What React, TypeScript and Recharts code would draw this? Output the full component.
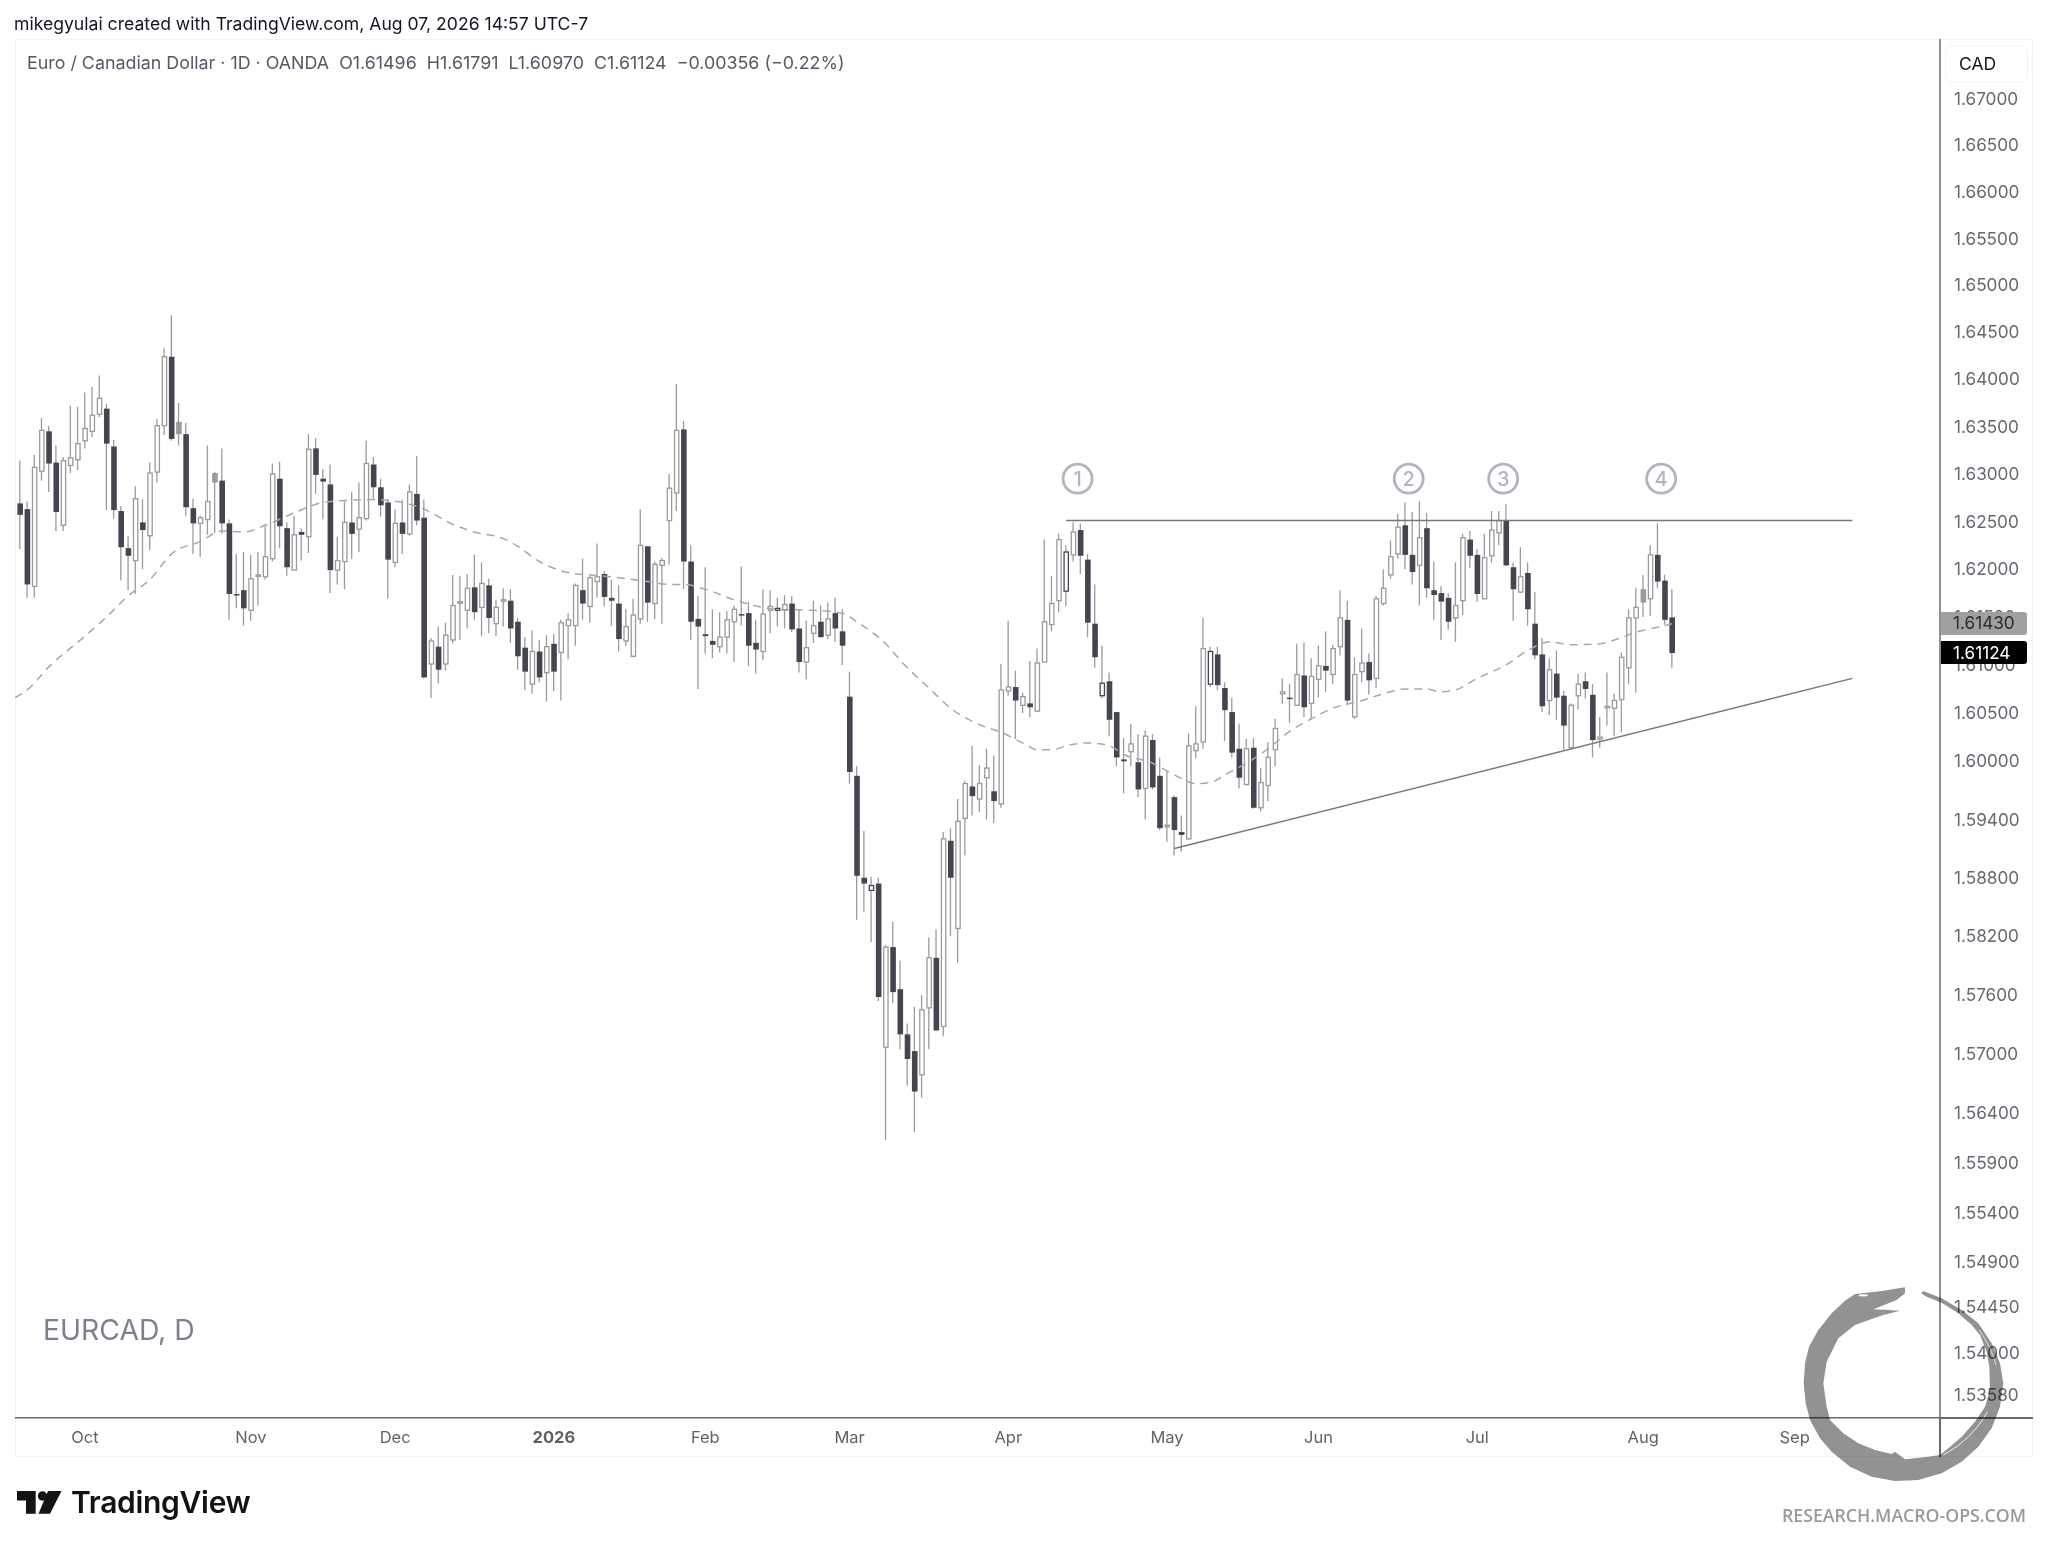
import React from "react";
import {
  ComposedChart,
  Bar,
  Line,
  XAxis,
  YAxis,
  ReferenceDot,
} from "recharts";

const highs = [
  1.6314,1.6271,1.6320,1.6359,1.6351,1.6330,1.6318,1.6372,1.6371,1.6386,
  1.6392,1.6404,1.6374,1.6336,1.6266,1.6235,1.6287,1.6273,1.6312,1.6358,
  1.6433,1.6468,1.6375,1.6354,1.6274,1.6256,1.6330,1.6302,1.6327,1.6252,
  1.6216,1.6218,1.6215,1.6218,1.6245,1.6311,1.6313,1.6249,1.6256,1.6243,
  1.6342,1.6338,1.6305,1.6310,1.6234,1.6271,1.6281,1.6291,1.6335,1.6318,
  1.6295,1.6273,1.6263,1.6273,1.6289,1.6319,1.6273,1.6128,1.6140,1.6144,
  1.6194,1.6193,1.6195,1.6215,1.6207,1.6190,1.6168,1.6180,1.6179,1.6149,
  1.6129,1.6136,1.6126,1.6131,1.6132,1.6147,1.6154,1.6185,1.6211,1.6193,
  1.6227,1.6198,1.6189,1.6183,1.6158,1.6169,1.6263,1.6224,1.6208,1.6212,
  1.6300,1.6395,1.6356,1.6225,1.6172,1.6202,1.6158,1.6155,1.6156,1.6162,
  1.6203,1.6166,1.6147,1.6179,1.6178,1.6170,1.6173,1.6172,1.6158,1.6146,
  1.6167,1.6162,1.6165,1.6170,1.6158,1.6093,1.5995,1.5928,1.5881,1.5880,
  1.5811,1.5835,1.5795,1.5731,1.5748,1.5760,1.5819,1.5827,1.5927,1.5931,
  1.5961,1.5980,1.6016,1.5996,1.6013,1.6006,1.6101,1.6146,1.6094,1.6071,
  1.6104,1.6117,1.6231,1.6193,1.6237,1.6225,1.6249,1.6248,1.6216,1.6184,
  1.6120,1.6092,1.6051,1.6024,1.6039,1.6028,1.6032,1.6028,1.6004,1.5989,
  1.5965,1.5944,1.6029,1.6057,1.6149,1.6119,1.6119,1.6082,1.6066,1.6039,
  1.6023,1.6024,1.5993,1.6020,1.6044,1.6086,1.6080,1.6122,1.6123,1.6107,
  1.6120,1.6135,1.6121,1.6178,1.6167,1.6108,1.6138,1.6112,1.6172,1.6200,
  1.6230,1.6258,1.6270,1.6260,1.6271,1.6259,1.6208,1.6182,1.6175,1.6207,
  1.6237,1.6240,1.6221,1.6237,1.6261,1.6261,1.6268,1.6207,1.6223,1.6207,
  1.6176,1.6128,1.6107,1.6115,1.6073,1.6060,1.6091,1.6092,1.6080,1.6046,
  1.6092,1.6070,1.6113,1.6158,1.6180,1.6194,1.6225,1.6248,1.6194,1.61791,
];

const lows = [
  1.6221,1.6170,1.6170,1.6293,1.6281,1.6240,1.6240,1.6301,1.6304,1.6327,
  1.6339,1.6360,1.6262,1.6253,1.6188,1.6178,1.6174,1.6200,1.6220,1.6291,
  1.6341,1.6335,1.6330,1.6256,1.6216,1.6213,1.6236,1.6238,1.6237,1.6147,
  1.6159,1.6141,1.6146,1.6162,1.6189,1.6208,1.6222,1.6193,1.6199,1.6209,
  1.6217,1.6279,1.6252,1.6175,1.6184,1.6179,1.6211,1.6218,1.6251,1.6273,
  1.6255,1.6169,1.6202,1.6216,1.6235,1.6246,1.6086,1.6066,1.6081,1.6094,
  1.6122,1.6126,1.6138,1.6147,1.6130,1.6133,1.6130,1.6140,1.6123,1.6095,
  1.6074,1.6070,1.6082,1.6062,1.6073,1.6063,1.6106,1.6120,1.6147,1.6144,
  1.6170,1.6161,1.6141,1.6114,1.6120,1.6108,1.6143,1.6145,1.6148,1.6143,
  1.6205,1.6261,1.6179,1.6126,1.6075,1.6112,1.6107,1.6113,1.6112,1.6103,
  1.6141,1.6099,1.6091,1.6105,1.6133,1.6140,1.6138,1.6134,1.6092,1.6085,
  1.6123,1.6128,1.6127,1.6124,1.6100,1.5977,1.5837,1.5845,1.5814,1.5754,
  1.5613,1.5752,1.5705,1.5668,1.5621,1.5656,1.5705,1.5724,1.5718,1.5820,
  1.5793,1.5903,1.5944,1.5948,1.5940,1.5936,1.5952,1.6068,1.6023,1.6050,
  1.6046,1.6051,1.6103,1.6135,1.6155,1.6161,1.6208,1.6195,1.6129,1.6097,
  1.6065,1.6026,1.5995,1.5967,1.5995,1.5963,1.5940,1.5971,1.5929,1.5917,
  1.5903,1.5907,1.5919,1.6003,1.6013,1.6077,1.6074,1.6021,1.6004,1.5972,
  1.5975,1.5951,1.5948,1.5959,1.5995,1.6059,1.6040,1.6058,1.6046,1.6043,
  1.6066,1.6072,1.6080,1.6110,1.6058,1.6044,1.6082,1.6069,1.6076,1.6162,
  1.6190,1.6211,1.6200,1.6184,1.6162,1.6170,1.6147,1.6126,1.6137,1.6124,
  1.6152,1.6201,1.6166,1.6169,1.6207,1.6225,1.6203,1.6146,1.6175,1.6141,
  1.6106,1.6051,1.6048,1.6043,1.6012,1.6013,1.6054,1.6065,1.6004,1.6014,
  1.6037,1.6026,1.6030,1.6080,1.6071,1.6150,1.6151,1.6180,1.6142,1.60970,
];

const opens = [
  1.6269,1.6263,1.6182,1.6303,1.6345,1.6312,1.6246,1.6309,1.6315,1.6335,
  1.6345,1.6363,1.6369,1.6329,1.6261,1.6222,1.6209,1.6249,1.6235,1.6302,
  1.6351,1.6424,1.6342,1.6342,1.6264,1.6248,1.6252,1.6291,1.6293,1.6248,
  1.6174,1.6178,1.6157,1.6193,1.6192,1.6211,1.6295,1.6243,1.6199,1.6239,
  1.6234,1.6327,1.6295,1.6289,1.6199,1.6208,1.6249,1.6242,1.6253,1.6310,
  1.6286,1.6270,1.6207,1.6249,1.6237,1.6279,1.6254,1.6101,1.6119,1.6101,
  1.6126,1.6165,1.6157,1.6181,1.6160,1.6183,1.6143,1.6167,1.6167,1.6145,
  1.6118,1.6080,1.6114,1.6092,1.6122,1.6113,1.6141,1.6141,1.6178,1.6161,
  1.6187,1.6195,1.6170,1.6164,1.6125,1.6109,1.6148,1.6224,1.6164,1.6204,
  1.6251,1.6280,1.6347,1.6208,1.6148,1.6132,1.6125,1.6119,1.6129,1.6145,
  1.6153,1.6154,1.6123,1.6114,1.6157,1.6157,1.6157,1.6164,1.6138,1.6103,
  1.6133,1.6145,1.6131,1.6154,1.6135,1.6067,1.5985,1.5880,1.5867,1.5874,
  1.5707,1.5809,1.5766,1.5720,1.5703,1.5679,1.5747,1.5798,1.5728,1.5918,
  1.5828,1.5941,1.5974,1.5961,1.5983,1.5969,1.5956,1.6073,1.6077,1.6058,
  1.6060,1.6052,1.6103,1.6142,1.6167,1.6177,1.6215,1.6241,1.6210,1.6143,
  1.6068,1.6083,1.6051,1.6002,1.6010,1.5999,1.5972,1.6022,1.5985,1.5933,
  1.5963,1.5927,1.5920,1.6011,1.6020,1.6080,1.6111,1.6076,1.6051,1.6013,
  1.5976,1.6014,1.5952,1.5975,1.6012,1.6070,1.6066,1.6058,1.6089,1.6060,
  1.6085,1.6099,1.6090,1.6119,1.6147,1.6046,1.6093,1.6103,1.6086,1.6164,
  1.6194,1.6216,1.6246,1.6215,1.6204,1.6243,1.6178,1.6175,1.6170,1.6149,
  1.6167,1.6231,1.6215,1.6169,1.6214,1.6238,1.6251,1.6202,1.6176,1.6196,
  1.6143,1.6111,1.6063,1.6091,1.6068,1.6014,1.6068,1.6083,1.6069,1.6023,
  1.6056,1.6055,1.6064,1.6097,1.6149,1.6165,1.6169,1.6215,1.6188,1.61496,
];

const closes = [
  1.6257,1.6184,1.6307,1.6346,1.6311,1.6260,1.6314,1.6317,1.6332,1.6348,
  1.6362,1.6380,1.6332,1.6262,1.6223,1.6214,1.6274,1.6241,1.6301,1.6351,
  1.6424,1.6337,1.6355,1.6265,1.6248,1.6254,1.6271,1.6301,1.6248,1.6174,
  1.6173,1.6159,1.6190,1.6194,1.6213,1.6300,1.6245,1.6202,1.6236,1.6236,
  1.6326,1.6299,1.6292,1.6199,1.6209,1.6249,1.6237,1.6254,1.6311,1.6286,
  1.6267,1.6210,1.6248,1.6237,1.6281,1.6251,1.6087,1.6125,1.6095,1.6131,
  1.6162,1.6166,1.6180,1.6155,1.6185,1.6149,1.6160,1.6168,1.6138,1.6109,
  1.6093,1.6114,1.6087,1.6119,1.6093,1.6144,1.6147,1.6183,1.6164,1.6191,
  1.6192,1.6171,1.6167,1.6127,1.6140,1.6152,1.6225,1.6165,1.6205,1.6209,
  1.6285,1.6346,1.6208,1.6145,1.6140,1.6130,1.6121,1.6129,1.6147,1.6158,
  1.6152,1.6120,1.6116,1.6153,1.6161,1.6159,1.6163,1.6137,1.6103,1.6118,
  1.6141,1.6129,1.6148,1.6138,1.6120,1.5989,1.5882,1.5874,1.5872,1.5758,
  1.5809,1.5763,1.5720,1.5695,1.5662,1.5745,1.5798,1.5724,1.5920,1.5880,
  1.5938,1.5977,1.5964,1.5977,1.5993,1.5959,1.6074,1.6077,1.6063,1.6067,
  1.6056,1.6102,1.6145,1.6164,1.6231,1.6218,1.6239,1.6214,1.6144,1.6108,
  1.6081,1.6043,1.6004,1.6000,1.6018,1.5971,1.6026,1.5973,1.5931,1.5934,
  1.5929,1.5924,1.6016,1.6018,1.6117,1.6114,1.6079,1.6053,1.6009,1.5983,
  1.6013,1.5952,1.5978,1.6004,1.6034,1.6072,1.6065,1.6090,1.6056,1.6088,
  1.6099,1.6094,1.6117,1.6149,1.6063,1.6090,1.6102,1.6084,1.6169,1.6180,
  1.6213,1.6244,1.6215,1.6197,1.6233,1.6180,1.6173,1.6166,1.6145,1.6162,
  1.6233,1.6214,1.6174,1.6212,1.6241,1.6251,1.6204,1.6179,1.6192,1.6158,
  1.6110,1.6057,1.6095,1.6066,1.6037,1.6058,1.6080,1.6075,1.6022,1.6025,
  1.6057,1.6063,1.6108,1.6149,1.6160,1.6179,1.6215,1.6187,1.6147,1.61124,
];

// sessions with a grey body or a dark outline instead of the usual style
const greySessions = [23, 28, 226];
const outlinedSessions = [106, 119, 146, 151, 166];

const maSessions = [
  0.31,2,5,10,13,16,19,22,26,29,32,35,39,43,46,50,54,57,61,64,68,70,73,78,80,84,88,91,93,96,100,
  104,106,111,115,117,121,123.5,127,130,134,137,140,142,144,146.5,149,152,154,158,161,164,166,
  168,171,174,177,180,183,187,190,193,196,198,200,203,207,210,213,216,220,222,225,229,230,
];
const maValues = [
  1.6066,1.6074,1.6098,1.6130,1.6150,1.6172,1.6189,1.6216,1.6229,1.6240,1.6239,1.6246,1.6259,1.6270,
  1.6272,1.6273,1.6270,1.6263,1.6247,1.6239,1.6232,1.6224,1.6208,1.6195,1.6194,1.6191,1.6187,1.6184,
  1.6184,1.6179,1.6168,1.6160,1.6158,1.6157,1.6154,1.6145,1.6122,1.6101,1.6076,1.6055,1.6038,1.6030,
  1.6019,1.6012,1.6012,1.6017,1.6019,1.6016,1.6007,1.5998,1.5986,1.5977,1.5978,1.5986,1.5998,1.6013,
  1.6031,1.6044,1.6055,1.6063,1.6070,1.6075,1.6075,1.6072,1.6074,1.6086,1.6100,1.6115,1.6124,1.6121,
  1.6122,1.6126,1.6134,1.6141,1.6143,
];

const resistanceLine = [
  { session: 146, price: 1.6251 },
  { session: 255, price: 1.6251 },
];
const supportLine = [
  { session: 161, price: 1.591 },
  { session: 255, price: 1.6086 },
];

const markerSessions = [147.6, 193.5, 206.6, 228.5];
const markerLabels = ["1", "2", "3", "4"];
const markerPrice = 1.6295;

const monthTicks = [10, 33, 53, 75, 96, 116, 138, 160, 181, 203, 226, 247];
const monthLabels = ["Oct", "Nov", "Dec", "2026", "Feb", "Mar", "Apr", "May", "Jun", "Jul", "Aug", "Sep"];

const priceTicks = [
  1.67, 1.665, 1.66, 1.655, 1.65, 1.645, 1.64, 1.635, 1.63, 1.625, 1.62, 1.615, 1.61, 1.605, 1.6,
  1.594, 1.588, 1.582, 1.576, 1.57, 1.564, 1.559, 1.554, 1.549, 1.5445, 1.54, 1.5358,
];

const data = highs.map((high, i) => ({
  session: i + 1,
  wick: [lows[i], high],
  body: [Math.min(opens[i], closes[i]), Math.max(opens[i], closes[i])],
  open: opens[i],
  close: closes[i],
}));

const maData = maSessions.map((session, i) => ({ session, price: maValues[i] }));

const FONT = "Inter, 'Noto Sans', sans-serif";
const DARK = "#434651";
const WICK = "#9b9b9b";

const CandleBody = (props: any) => {
  const { x, y, width, height, payload } = props;
  const h = Math.max(height, 1.5);
  if (greySessions.includes(payload.session)) {
    return <rect x={x} y={y} width={width} height={h} fill="#9b9b9b" />;
  }
  if (payload.close < payload.open) {
    return <rect x={x} y={y} width={width} height={h} fill={DARK} />;
  }
  const stroke = outlinedSessions.includes(payload.session) ? DARK : WICK;
  return (
    <rect
      x={x + 0.65}
      y={y}
      width={width - 1.3}
      height={h}
      fill="#ffffff"
      stroke={stroke}
      strokeWidth={1.3}
    />
  );
};

const MonthTick = (props: any) => {
  const { x, y, payload } = props;
  const label = monthLabels[monthTicks.indexOf(payload.value)];
  return (
    <text
      x={x}
      y={y}
      dy={11}
      textAnchor="middle"
      fontSize={16.5}
      fontFamily={FONT}
      fill="#5f6368"
      fontWeight={label === "2026" ? 700 : 400}
    >
      {label}
    </text>
  );
};

const Ouroboros = () => (
  <svg
    width={220}
    height={210}
    viewBox="0 0 660 630"
    style={{ position: "absolute", left: 1795, top: 1280, mixBlendMode: "multiply" }}
  >
    <path
      d="M330 22 L260 33 L180 42 L150 62 L110 100 L70 150 L42 200 L30 250 L26 310 L32 370 L45 420 L75 475 L110 515 L165 560 L230 590 L300 603 L370 600 L440 580 L500 545 L550 500 L590 445 L615 380 L625 310 L615 250 L590 190 L550 130 L500 90 L440 55 L385 33 L378 40 L395 50 L440 68 L490 100 L530 135 L555 165 L575 215 L583 260 L585 330 L570 380 L540 425 L500 470 L460 505 L435 525 L400 530 L330 538 L300 515 L290 522 L240 510 L190 490 L145 460 L105 420 L95 380 L85 310 L95 245 L130 175 L180 135 L230 117 L265 105 L315 92 L280 90 L235 88 L275 72 L305 60 L330 40 Z"
      fill="#929292"
    />
    <ellipse cx={205} cy={46} rx={14} ry={3.5} fill="#ffffff" />
    <path d="M553 150 Q590 205 603 255" fill="none" stroke="#ffffff" strokeWidth={2} />
    <path d="M578 395 Q530 480 445 525" fill="none" stroke="#ffffff" strokeWidth={2.5} />
  </svg>
);

const TvLogo = () => (
  <svg width={46} height={24} viewBox="0 0 46 24" style={{ position: "absolute", left: 17, top: 1490.5 }}>
    <path d="M0 0 H18.7 V22.7 H9 V9.6 H0 Z" fill="#131313" />
    <circle cx={25.5} cy={5} r={4.7} fill="#131313" />
    <path d="M31 0 H44.5 L33 22.7 H21.5 Z" fill="#131313" />
  </svg>
);

export default function App() {
  return (
    <div
      style={{
        position: "absolute",
        left: 0,
        top: 0,
        width: 2048,
        height: 1547,
        background: "#ffffff",
        fontFamily: FONT,
        overflow: "hidden",
      }}
    >
      <div
        style={{
          position: "absolute",
          left: 15,
          top: 39,
          width: 2018,
          height: 1418,
          border: "1px solid #f0f3fa",
          boxSizing: "border-box",
        }}
      />
      <div style={{ position: "absolute", left: 0, top: 0 }}>
        <ComposedChart
          width={2048}
          height={1547}
          data={data}
          margin={{ top: 39, right: 15, bottom: 89.3, left: 15 }}
        >
          <XAxis
            xAxisId="body"
            dataKey="session"
            type="number"
            scale="linear"
            domain={[0.307, 267.15]}
            allowDataOverflow
            ticks={monthTicks}
            interval={0}
            height={40}
            tickLine={false}
            axisLine={{ stroke: "#6a6a6a", strokeWidth: 1.5 }}
            tick={MonthTick}
            tickMargin={8}
          />
          <XAxis
            xAxisId="wick"
            dataKey="session"
            type="number"
            scale="linear"
            domain={[0.307, 267.15]}
            allowDataOverflow
            hide
          />
          <YAxis
            yAxisId="price"
            orientation="right"
            scale="log"
            domain={[1.53352, 1.67649]}
            allowDataOverflow
            ticks={priceTicks}
            interval={0}
            width={93}
            tickLine={false}
            axisLine={{ stroke: "#6a6a6a", strokeWidth: 1.5 }}
            tick={{ fontSize: 17.2, fill: "#666a70", fontFamily: FONT }}
            tickMargin={8}
            tickFormatter={(v: number) => v.toFixed(5)}
          />
          <Line
            xAxisId="wick"
            yAxisId="price"
            data={maData}
            dataKey="price"
            type="monotone"
            stroke="#a8a8a8"
            strokeWidth={1.5}
            strokeDasharray="8 6"
            dot={false}
            isAnimationActive={false}
          />
          <Bar
            xAxisId="wick"
            yAxisId="price"
            dataKey="wick"
            barSize={1.3}
            fill={WICK}
            isAnimationActive={false}
          />
          <Bar
            xAxisId="body"
            yAxisId="price"
            dataKey="body"
            barSize={5.6}
            shape={CandleBody}
            isAnimationActive={false}
          />
          <Line
            xAxisId="wick"
            yAxisId="price"
            data={resistanceLine}
            dataKey="price"
            stroke="#77787c"
            strokeWidth={1.4}
            dot={false}
            isAnimationActive={false}
          />
          <Line
            xAxisId="wick"
            yAxisId="price"
            data={supportLine}
            dataKey="price"
            stroke="#77787c"
            strokeWidth={1.4}
            dot={false}
            isAnimationActive={false}
          />
          {markerSessions.map((s, i) => (
            <ReferenceDot
              key={s}
              xAxisId="wick"
              yAxisId="price"
              x={s}
              y={markerPrice}
              r={14.5}
              fill="#ffffff"
              stroke="#b2b5be"
              strokeWidth={2.8}
              label={{
                value: markerLabels[i],
                position: "center",
                fill: "#b2b5be",
                fontSize: 20,
                fontFamily: FONT,
                fontWeight: 500,
              }}
            />
          ))}
        </ComposedChart>
      </div>

      {/* frame lines that run past the plot area */}
      <div style={{ position: "absolute", left: 1940, top: 1417, width: 93, height: 1.5, background: "#6a6a6a" }} />
      <div style={{ position: "absolute", left: 1939.3, top: 1417, width: 1.5, height: 40, background: "#6a6a6a" }} />

      <div style={{ position: "absolute", left: 14, top: 13, fontSize: 17.6, color: "#131722", whiteSpace: "nowrap" }}>
        mikegyulai created with TradingView.com, Aug 07, 2026 14:57 UTC-7
      </div>
      <div style={{ position: "absolute", left: 27, top: 52, fontSize: 17.85, color: "#555b66", whiteSpace: "pre" }}>
        {"Euro / Canadian Dollar · 1D · OANDA  O1.61496  H1.61791  L1.60970  C1.61124  −0.00356 (−0.22%)"}
      </div>
      <div
        style={{
          position: "absolute",
          left: 1945,
          top: 45,
          width: 83,
          height: 38,
          boxSizing: "border-box",
          border: "1px solid #f0f3fa",
          borderRadius: 8,
          background: "#ffffff",
          fontSize: 17.5,
          color: "#131722",
          lineHeight: "36px",
          paddingLeft: 13,
        }}
      >
        CAD
      </div>

      <div
        style={{
          position: "absolute",
          left: 1941,
          top: 612,
          width: 85.5,
          height: 22.5,
          background: "#a0a0a0",
          color: "#2a2a2e",
          fontSize: 17.2,
          lineHeight: "22.5px",
          paddingLeft: 12,
          boxSizing: "border-box",
          borderRadius: "0 3px 3px 0",
        }}
      >
        1.61430
      </div>
      <div
        style={{
          position: "absolute",
          left: 1941,
          top: 641,
          width: 85.5,
          height: 23,
          background: "#000000",
          color: "#ffffff",
          fontSize: 17.2,
          lineHeight: "23px",
          paddingLeft: 12,
          boxSizing: "border-box",
          borderRadius: "0 3px 3px 0",
        }}
      >
        1.61124
      </div>

      <div style={{ position: "absolute", left: 43, top: 1313, fontSize: 28.3, color: "#7c8090", whiteSpace: "nowrap" }}>
        EURCAD, D
      </div>

      <TvLogo />
      <div
        style={{
          position: "absolute",
          left: 71,
          top: 1483.5,
          fontSize: 30,
          fontWeight: 600,
          color: "#131313",
          whiteSpace: "nowrap",
          letterSpacing: -0.3,
        }}
      >
        TradingView
      </div>

      <Ouroboros />
      <div
        style={{
          position: "absolute",
          left: 1782,
          top: 1503,
          fontSize: 17.7,
          fontWeight: 600,
          color: "#9a9a9a",
          fontFamily: "'Open Sans', sans-serif",
          whiteSpace: "nowrap",
        }}
      >
        RESEARCH.MACRO-OPS.COM
      </div>
    </div>
  );
}
